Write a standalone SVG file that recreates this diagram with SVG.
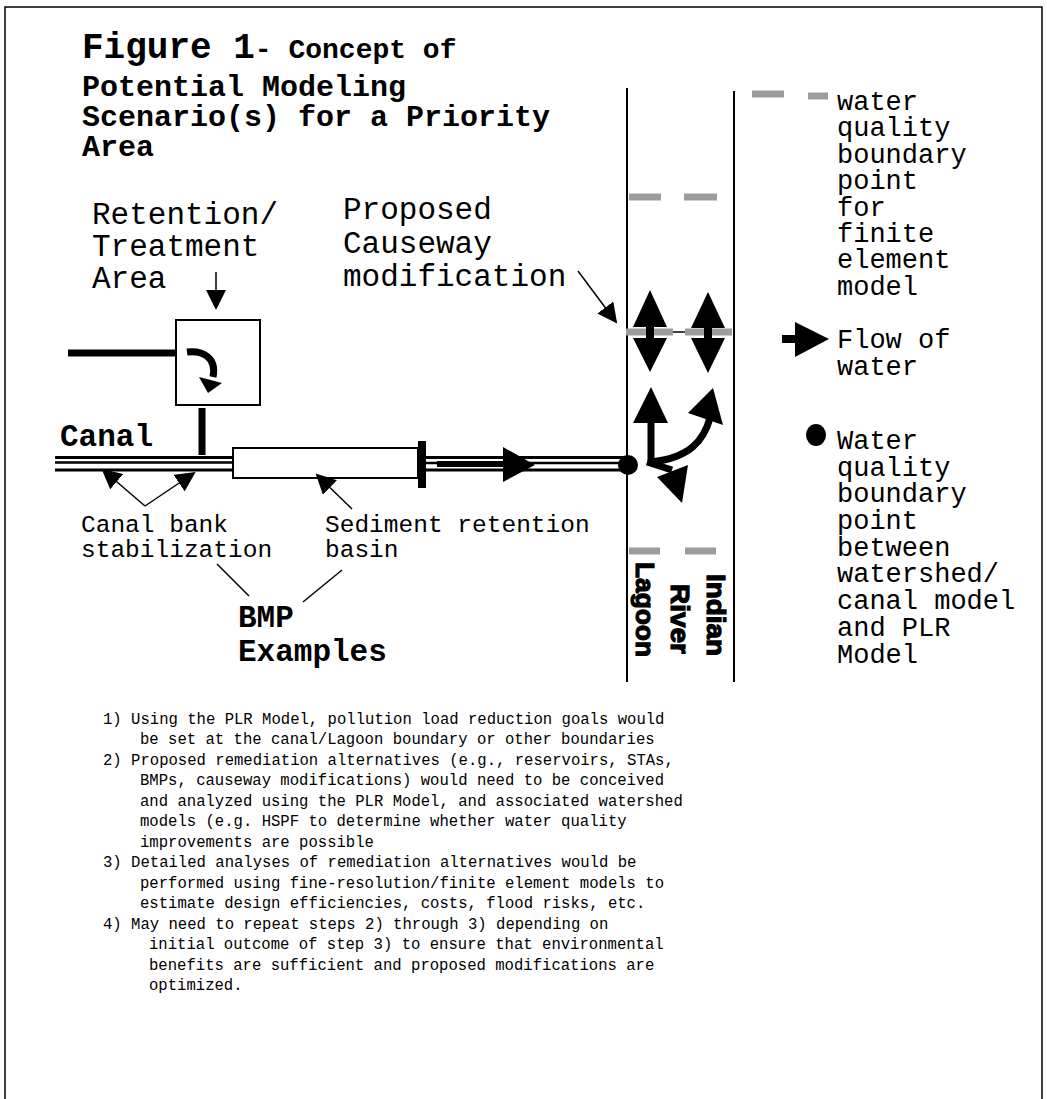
<svg xmlns="http://www.w3.org/2000/svg" width="1047" height="1099" viewBox="0 0 1047 1099">
<style>
.mono{font-family:"Liberation Mono","Courier New",monospace;fill:#000}
.b{font-weight:bold}
.t31{font-size:31px}
.t27{font-size:27px}
.t24{font-size:24.5px}
.t16{font-size:15.6px}
.ln{stroke:#000;fill:none}
.gray{stroke:#9c9c9c;stroke-width:7;fill:none}
.lag{font-family:"Liberation Sans",Arial,sans-serif;font-weight:900;font-size:26px;fill:#000;stroke:#000;stroke-width:1.2}
</style>
<defs>
<marker id="ahBig" viewBox="0 0 10 10" refX="9" refY="5" markerWidth="20" markerHeight="20" markerUnits="userSpaceOnUse" orient="auto"><path d="M0,0 L10,5 L0,10 z" fill="#000"/></marker>
</defs>
<rect x="0" y="0" width="1047" height="1099" fill="#fff"/>
<rect x="5" y="7" width="1037" height="1110" fill="none" stroke="#000" stroke-width="1.5"/>

<g id="title">
<text class="mono b" x="82" y="58" font-size="36">Figure 1<tspan font-size="28">- Concept of</tspan></text>
<text class="mono b" x="82" y="96" font-size="30">Potential Modeling</text>
<text class="mono b" x="82" y="126" font-size="30">Scenario(s) for a Priority</text>
<text class="mono b" x="82" y="156" font-size="30">Area</text>
</g>

<g id="retention-label">
<text class="mono t31" x="92" y="224">Retention/</text>
<text class="mono t31" x="92" y="256">Treatment</text>
<text class="mono t31" x="92" y="288">Area</text>
</g>

<g id="causeway-label">
<text class="mono t31" x="343" y="219">Proposed</text>
<text class="mono t31" x="343" y="253">Causeway</text>
<text class="mono t31" x="343" y="286">modification</text>
</g>

<g id="retention-box">
<rect x="176" y="320" width="84" height="85" fill="#fff" stroke="#000" stroke-width="2"/>
<path d="M187,352 C203,350 217,358 213,377" class="ln" stroke-width="7"/>
<polygon points="199,377 222,383 208,393" fill="#000"/>
</g>

<g id="canal">
<line x1="55" y1="457.5" x2="233" y2="457.5" class="ln" stroke-width="3"/>
<line x1="55" y1="462.5" x2="233" y2="462.5" class="ln" stroke-width="2.6"/>
<line x1="55" y1="470" x2="233" y2="470" class="ln" stroke-width="3"/>
<line x1="422" y1="457.5" x2="628" y2="457.5" class="ln" stroke-width="3"/>
<line x1="422" y1="463" x2="628" y2="463" class="ln" stroke-width="2.6"/>
<line x1="422" y1="470" x2="628" y2="470" class="ln" stroke-width="3"/>
<text class="mono b t31" x="60" y="446">Canal</text>
</g>

<g id="sediment-basin">
<rect x="233" y="448" width="185" height="30" fill="#fff" stroke="#000" stroke-width="2"/>
<rect x="418" y="441" width="8" height="47" fill="#000"/>
</g>

<g id="lagoon">
<line x1="627" y1="88" x2="627" y2="682" class="ln" stroke-width="2"/>
<line x1="734" y1="91" x2="734" y2="682" class="ln" stroke-width="2"/>
<line x1="629" y1="197" x2="661" y2="197" class="gray"/>
<line x1="684" y1="197" x2="717" y2="197" class="gray"/>
<line x1="629" y1="551" x2="660" y2="551" class="gray"/>
<line x1="685" y1="551" x2="716" y2="551" class="gray"/>
<text class="lag" transform="translate(707,656) rotate(90)" text-anchor="end" textLength="82" lengthAdjust="spacingAndGlyphs">Indian</text>
<text class="lag" transform="translate(671,654) rotate(90)" text-anchor="end" textLength="70" lengthAdjust="spacingAndGlyphs">River</text>
<text class="lag" transform="translate(636,657) rotate(90)" text-anchor="end" textLength="95" lengthAdjust="spacingAndGlyphs">Lagoon</text>
</g>

<g id="causeway">
<polygon points="650,290 633,327 667,327" fill="#000"/>
<polygon points="650,372 633,338 667,338" fill="#000"/>
<polygon points="708,292 691,328 725,328" fill="#000"/>
<polygon points="708,373 691,338 725,338" fill="#000"/>
<line x1="626" y1="332" x2="673" y2="332" class="gray" stroke-width="8"/>
<line x1="685" y1="332" x2="732" y2="332" class="gray" stroke-width="8"/>
<line x1="673" y1="332" x2="685" y2="332" class="ln" stroke-width="1.5"/>
<rect x="646" y="326" width="8" height="13" fill="#000"/>
<rect x="704" y="326" width="8" height="13" fill="#000"/>
</g>

<g id="boundary-point">
<circle cx="628" cy="465" r="10" fill="#000"/>
</g>

<g id="outflow-arrows">
<line x1="651" y1="463" x2="651" y2="420" class="ln" stroke-width="7"/>
<polygon points="651,387 633,423 668,423" fill="#000"/>
<path d="M651,462 C690,458 704,440 710,418" class="ln" stroke-width="7"/>
<polygon points="713,388 688,413 723,425" fill="#000"/>
<line x1="647" y1="462" x2="672" y2="470" class="ln" stroke-width="7"/>
<polygon points="682,503 657,477 688,465" fill="#000"/>
</g>

<g id="legend">
<line x1="752" y1="94" x2="784" y2="94" class="gray"/>
<line x1="808" y1="96" x2="828" y2="96" class="gray"/>
<text class="mono t27" x="837" y="110">water</text>
<text class="mono t27" x="837" y="136">quality</text>
<text class="mono t27" x="837" y="163">boundary</text>
<text class="mono t27" x="837" y="189">point</text>
<text class="mono t27" x="837" y="216">for</text>
<text class="mono t27" x="837" y="242">finite</text>
<text class="mono t27" x="837" y="268">element</text>
<text class="mono t27" x="837" y="295">model</text>
<line x1="782" y1="339" x2="797" y2="339" class="ln" stroke-width="8"/>
<polygon points="795,322 829,339 795,357" fill="#000"/>
<text class="mono t27" x="837" y="348">Flow of</text>
<text class="mono t27" x="837" y="375">water</text>
<ellipse cx="816" cy="435" rx="10" ry="11" fill="#000"/>
<text class="mono t27" x="837" y="449">Water</text>
<text class="mono t27" x="837" y="476">quality</text>
<text class="mono t27" x="837" y="502">boundary</text>
<text class="mono t27" x="837" y="529">point</text>
<text class="mono t27" x="837" y="556">between</text>
<text class="mono t27" x="837" y="582">watershed/</text>
<text class="mono t27" x="837" y="609">canal model</text>
<text class="mono t27" x="837" y="636">and PLR</text>
<text class="mono t27" x="837" y="663">Model</text>
</g>

<g id="bmp-labels">
<text class="mono t24" x="81" y="532">Canal bank</text>
<text class="mono t24" x="81" y="557">stabilization</text>
<text class="mono t24" x="325" y="532">Sediment retention</text>
<text class="mono t24" x="325" y="557">basin</text>
<text class="mono b t31" x="238" y="627">BMP</text>
<text class="mono b t31" x="238" y="661">Examples</text>
</g>

<g id="connectors">
<line x1="68" y1="353" x2="176" y2="353" class="ln" stroke-width="7"/>
<line x1="202" y1="408" x2="202" y2="455" class="ln" stroke-width="7"/>
<line x1="216" y1="272" x2="216" y2="308" class="ln" stroke-width="1.5" marker-end="url(#ahBig)"/>
<line x1="437" y1="464" x2="510" y2="464" class="ln" stroke-width="6"/>
<polygon points="503,447 535,465 503,482" fill="#000"/>
<line x1="578" y1="271" x2="616" y2="322" class="ln" stroke-width="1.5" marker-end="url(#ahBig)"/>
<line x1="145" y1="506" x2="103" y2="470" class="ln" stroke-width="1.5" marker-end="url(#ahBig)"/>
<line x1="145" y1="506" x2="194" y2="473" class="ln" stroke-width="1.5" marker-end="url(#ahBig)"/>
<line x1="352" y1="509" x2="317" y2="475" class="ln" stroke-width="1.5" marker-end="url(#ahBig)"/>
<line x1="217" y1="564" x2="249" y2="596" class="ln" stroke-width="1.5"/>
<line x1="342" y1="570" x2="303" y2="602" class="ln" stroke-width="1.5"/>
</g>

<g id="notes" class="mono t16">
<text x="103" y="724">1) Using the PLR Model, pollution load reduction goals would</text>
<text x="140" y="744">be set at the canal/Lagoon boundary or other boundaries</text>
<text x="103" y="765">2) Proposed remediation alternatives (e.g., reservoirs, STAs,</text>
<text x="140" y="785">BMPs, causeway modifications) would need to be conceived</text>
<text x="140" y="806">and analyzed using the PLR Model, and associated watershed</text>
<text x="140" y="826">models (e.g. HSPF to determine whether water quality</text>
<text x="140" y="847">improvements are possible</text>
<text x="103" y="867">3) Detailed analyses of remediation alternatives would be</text>
<text x="140" y="888">performed using fine-resolution/finite element models to</text>
<text x="140" y="908">estimate design efficiencies, costs, flood risks, etc.</text>
<text x="103" y="929">4) May need to repeat steps 2) through 3) depending on</text>
<text x="149" y="949">initial outcome of step 3) to ensure that environmental</text>
<text x="149" y="970">benefits are sufficient and proposed modifications are</text>
<text x="149" y="990">optimized.</text>
</g>
</svg>
